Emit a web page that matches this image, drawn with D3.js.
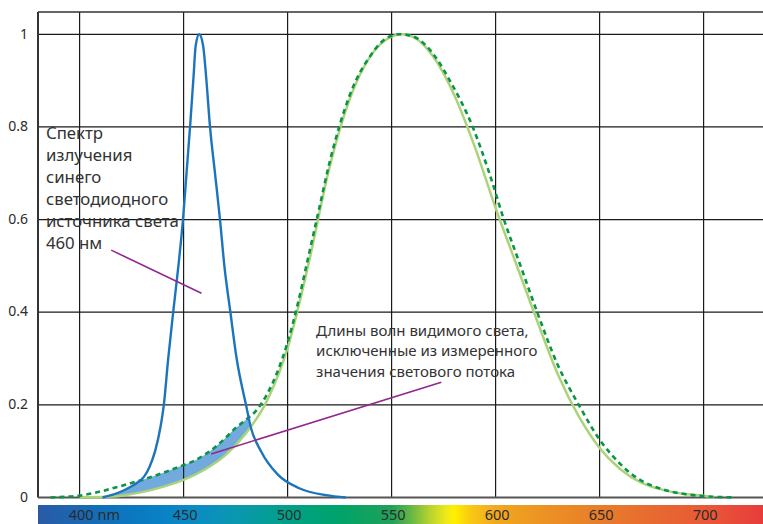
<!DOCTYPE html>
<html>
<head>
<meta charset="utf-8">
<script src="https://cdnjs.cloudflare.com/ajax/libs/d3/7.8.5/d3.min.js"></script>
<style>
    html, body { margin: 0; padding: 0; background: #fff; }
    svg { display: block; font-family: "Noto Sans", "Open Sans", sans-serif; }
</style>
</head>
<body>
<div id="chart"></div>
<script>
// Blue LED emission spectrum, [wavelength nm, relative value]
const ledSpectrum = [
    [411, 0], [416, 0.006], [420, 0.013], [426, 0.027], [431, 0.045], [433.5, 0.065],
    [436.3, 0.1], [438.8, 0.15], [440.5, 0.2], [442.6, 0.3], [445, 0.4], [447.5, 0.5],
    [449.7, 0.6], [451.4, 0.7], [453.1, 0.8], [454.8, 0.91], [455.8, 0.975], [457.5, 1.0],
    [459.4, 0.975], [460.8, 0.91], [462.7, 0.8], [465.1, 0.7], [467.5, 0.6], [469.6, 0.5],
    [472.5, 0.4], [475.5, 0.3], [480, 0.2], [482.4, 0.15], [487.2, 0.1], [495.2, 0.05],
    [505.6, 0.02], [518.5, 0.005], [528, 0]
];

// Eye sensitivity curve (solid light green)
const eyeCurve = [
    [400, 0.0004], [410, 0.0012], [420, 0.004], [430, 0.0116], [440, 0.023], [450, 0.038],
    [460, 0.06], [470, 0.091], [480, 0.139], [490, 0.208], [500, 0.323], [510, 0.503],
    [520, 0.71], [530, 0.862], [540, 0.954], [550, 0.995], [555, 1.0], [560, 0.995],
    [570, 0.952], [580, 0.87], [590, 0.757], [600, 0.625], [610, 0.503], [620, 0.381],
    [630, 0.265], [640, 0.175], [650, 0.107], [660, 0.061], [670, 0.032], [680, 0.017],
    [690, 0.008], [700, 0.004], [705, 0]
];

// Wider eye sensitivity curve (dashed dark green)
const eyeCurveWide = [
    [386, 0], [395, 0.002], [400, 0.004], [410, 0.013], [420, 0.025], [430, 0.038],
    [440, 0.053], [450, 0.07], [455, 0.079], [460, 0.092], [465, 0.108], [470, 0.128],
    [475, 0.15], [480, 0.168], [485, 0.188], [490, 0.222], [495, 0.27], [500, 0.335],
    [505, 0.42], [510, 0.52], [515, 0.62], [520, 0.72], [530, 0.87], [540, 0.955],
    [548, 0.993], [554, 1.0], [560, 0.996], [566, 0.978], [572, 0.945], [578, 0.9],
    [589, 0.8], [597, 0.7], [604, 0.6], [612, 0.5], [620, 0.4], [630, 0.285], [640, 0.2],
    [650, 0.125], [660, 0.072], [667, 0.045], [680, 0.018], [690, 0.008], [700, 0.003],
    [715, 0]
];

const xTicks = [400, 450, 500, 550, 600, 650, 700];
const xTickLabels = ["400", "450", "500", "550", "600", "650", "700"];
const xUnit = "nm";
const yTicks = [0, 0.2, 0.4, 0.6, 0.8, 1];
const yTickLabels = ["0", "0.2", "0.4", "0.6", "0.8", "1"];

// colours of the visible spectrum strip, [wavelength, colour]
const spectrumStops = [
    [380, "#2a5aa5"], [400, "#1a67b2"], [425, "#0a78c0"], [450, "#0a88c8"], [475, "#0a98b0"],
    [500, "#00a088"], [525, "#00a36a"], [550, "#20a158"], [560, "#6cb844"], [568, "#b4d230"],
    [576, "#ece81a"], [580, "#fff100"], [588, "#f8c914"], [600, "#f2a81e"], [625, "#ec9024"],
    [650, "#e87d2a"], [675, "#e86a30"], [700, "#e85a36"], [730, "#e83a3c"]
];

const ledNote = ["Спектр", "излучения", "синего", "светодиодного", "источника света", "460 нм"];
const excludedNote = ["Длины волн видимого света,", "исключенные из измеренного", "значения светового потока"];

// annotation anchors in data units: text start and pointer line
const ledNoteAt = [383.8, 0.773];
const ledPointer = [[415.2, 0.534], [458.6, 0.441]];
const excludedNoteAt = [513.7, 0.349];
const excludedPointer = [[463.3, 0.094], [573.9, 0.249]];

(function() {
    const width = 763;
    const height = 524;
    const top = 12;
    const left = 38;

    const x = d3.scaleLinear().domain([380, 730]).range([left, 766]);
    const y = d3.scaleLinear().domain([0, 1]).range([497.5, 34.3]);

    const svg = d3.select("#chart").append("svg")
        .attr("width", width)
        .attr("height", height);

    const defs = svg.append("defs");

    const line = d3.line()
        .x(d => x(d[0]))
        .y(d => y(d[1]))
        .curve(d3.curveMonotoneX);

    const under = d3.area()
        .x(d => x(d[0]))
        .y0(y(0))
        .y1(d => y(d[1]))
        .curve(d3.curveMonotoneX);

    // Region between the two sensitivity curves that lies under the LED spectrum
    const mask = defs.append("mask").attr("id", "gap-mask");
    mask.append("rect").attr("x", 0).attr("y", 0).attr("width", width).attr("height", height).attr("fill", "#000");
    mask.append("path").attr("d", under(eyeCurveWide)).attr("fill", "#fff");
    mask.append("path").attr("d", under(eyeCurve)).attr("fill", "#000");

    defs.append("clipPath").attr("id", "led-clip")
        .append("path").attr("d", under(ledSpectrum));

    svg.append("g")
        .attr("clip-path", "url(#led-clip)")
        .append("rect")
        .attr("x", left).attr("y", top)
        .attr("width", width - left).attr("height", y(0) - top)
        .attr("fill", "#72aade")
        .attr("mask", "url(#gap-mask)");

    // grid
    const grid = svg.append("g").attr("stroke", "#1a1a1a").attr("stroke-width", 1.2);
    grid.selectAll("line.v")
        .data(xTicks)
        .enter()
        .append("line")
        .attr("x1", d => x(d)).attr("x2", d => x(d))
        .attr("y1", top).attr("y2", y(0));
    grid.selectAll("line.h")
        .data(yTicks.filter(d => d > 0))
        .enter()
        .append("line")
        .attr("x1", left).attr("x2", width)
        .attr("y1", d => y(d)).attr("y2", d => y(d));

    // frame
    svg.append("line")
        .attr("x1", left).attr("x2", width).attr("y1", top).attr("y2", top)
        .attr("stroke", "#333").attr("stroke-width", 1.6);
    svg.append("line")
        .attr("x1", left).attr("x2", left).attr("y1", top).attr("y2", y(0))
        .attr("stroke", "#333").attr("stroke-width", 2);
    svg.append("line")
        .attr("x1", left).attr("x2", width).attr("y1", y(0)).attr("y2", y(0))
        .attr("stroke", "#555").attr("stroke-width", 2);

    // y labels
    svg.append("g")
        .selectAll("text")
        .data(yTicks)
        .enter()
        .append("text")
        .attr("x", 28)
        .attr("y", d => y(d))
        .attr("dy", "0.3em")
        .attr("text-anchor", "end")
        .attr("font-size", 14)
        .attr("fill", "#2b2b2b")
        .text((d, i) => yTickLabels[i]);

    // curves
    svg.append("path")
        .attr("d", line(eyeCurve))
        .attr("fill", "none")
        .attr("stroke", "#acd37a")
        .attr("stroke-width", 2.5);

    svg.append("path")
        .attr("d", line(eyeCurveWide))
        .attr("fill", "none")
        .attr("stroke", "#0a9447")
        .attr("stroke-width", 2.6)
        .attr("stroke-dasharray", "5,4");

    svg.append("path")
        .attr("d", line(ledSpectrum))
        .attr("fill", "none")
        .attr("stroke", "#1c75bc")
        .attr("stroke-width", 2.4);

    // annotations
    [ledPointer, excludedPointer].forEach(p => {
        svg.append("line")
            .attr("x1", x(p[0][0])).attr("y1", y(p[0][1]))
            .attr("x2", x(p[1][0])).attr("y2", y(p[1][1]))
            .attr("stroke", "#92278f")
            .attr("stroke-width", 1.6);
    });

    svg.append("g")
        .selectAll("text")
        .data(ledNote)
        .enter()
        .append("text")
        .attr("x", x(ledNoteAt[0]))
        .attr("y", (d, i) => y(ledNoteAt[1]) + i * 21.9)
        .attr("font-size", 16.8)
        .attr("fill", "#333")
        .text(d => d);

    svg.append("g")
        .selectAll("text")
        .data(excludedNote)
        .enter()
        .append("text")
        .attr("x", x(excludedNoteAt[0]))
        .attr("y", (d, i) => y(excludedNoteAt[1]) + i * 20.6)
        .attr("font-size", 15)
        .attr("fill", "#333")
        .text(d => d);

    // spectrum strip
    const grad = defs.append("linearGradient")
        .attr("id", "spectrum")
        .attr("gradientUnits", "userSpaceOnUse")
        .attr("x1", x(380)).attr("x2", x(730))
        .attr("y1", 0).attr("y2", 0);
    grad.selectAll("stop")
        .data(spectrumStops)
        .enter()
        .append("stop")
        .attr("offset", d => (d[0] - 380) / (730 - 380))
        .attr("stop-color", d => d[1]);

    svg.append("rect")
        .attr("x", left).attr("y", 505)
        .attr("width", width - left).attr("height", height - 505)
        .attr("fill", "url(#spectrum)");

    const tickText = svg.append("g")
        .selectAll("text")
        .data(xTicks)
        .enter()
        .append("text")
        .attr("x", d => x(d) + 1.5)
        .attr("y", 519.5)
        .attr("text-anchor", "middle")
        .attr("font-size", 14.5)
        .attr("fill", "#2b2b2b")
        .text((d, i) => xTickLabels[i]);

    // unit goes after the first tick number
    const firstBox = tickText.nodes()[0].getBBox();
    svg.append("text")
        .attr("x", firstBox.x + firstBox.width + 4)
        .attr("y", 519.5)
        .attr("font-size", 14.5)
        .attr("fill", "#2b2b2b")
        .text(xUnit);
})();
</script>
</body>
</html>
